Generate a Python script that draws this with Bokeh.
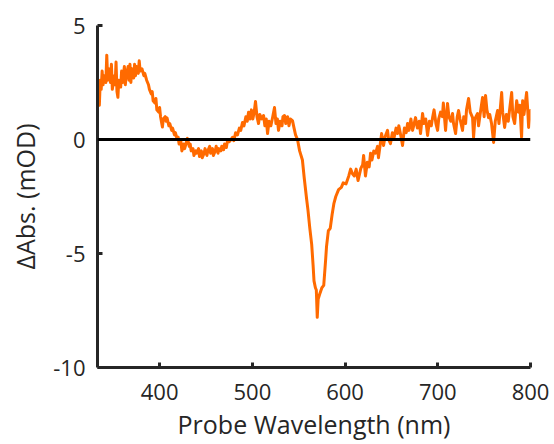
from bokeh.plotting import figure
from bokeh.models import Range1d, FixedTicker, Span
from bokeh.embed import file_html
from bokeh.resources import INLINE

# ---- data ----
wavelength = [
    333, 334, 335, 336, 337, 338, 339, 340, 342, 343, 344, 345, 347, 348, 349, 351, 352, 353, 354, 355,
    356, 358, 359, 360, 362, 363, 364, 366, 367, 368, 369, 370, 372, 373, 374, 375, 377, 378, 379, 381,
    383, 384, 386, 388, 389, 391, 392, 393, 395, 396, 397, 399, 400, 401, 403, 404, 406, 407, 408, 410,
    411, 413, 414, 416, 417, 419, 420, 421, 423, 424, 426, 427, 429, 430, 432, 433, 434, 436, 437, 439,
    440, 442, 443, 445, 446, 448, 449, 451, 452, 454, 455, 457, 458, 460, 461, 463, 464, 466, 467, 469,
    470, 472, 473,
    475, 477, 478.6, 480, 482, 484, 486, 487.5, 489.4, 491, 493, 494.5, 495.9, 497.5, 499, 500.5, 502,
    503.4, 505, 506.7, 508, 510, 512.1, 513.5, 515, 516.4, 518, 520, 522, 523.9, 525.5, 527, 528.2, 530,
    532, 533, 534.7, 536, 538, 539.5, 541, 543.3, 545, 546.6, 548.7,
    551, 554, 556, 558.5, 560, 562, 564, 565.5, 566.5, 568, 569, 570, 571, 572.5, 575, 577, 579, 580,
    582, 584, 586, 588, 590, 593, 596, 598, 601, 604, 606, 608, 610, 612, 614, 617, 619,
    620, 622, 624, 626, 627.5, 629, 631, 633, 635, 636, 638, 639.4, 641.5, 643, 645.8, 647, 649, 651,
    653, 655, 656.6, 658, 660, 662, 664, 666, 667.4, 669, 671, 672.8, 674, 676, 678, 680, 681.4, 683.6,
    685, 687, 689, 691, 693, 694.4, 696, 698, 699.8, 701, 703, 705, 706, 708.4, 710.5, 712, 714, 715.9,
    717, 719.2, 721, 722.4, 724, 726.7, 728, 730, 731, 733.2, 735, 737.5, 738.6, 740, 742.9, 744, 746,
    748.3, 750, 751.5, 753, 754.8, 756, 758, 760.2, 762, 764.5, 766, 768.9, 770, 772.1, 774, 776, 778,
    779.7, 781, 782.9, 785.1, 787, 788.5, 790.4, 791.5, 793, 795.8, 797, 798, 800,
]
delta_abs = [
    1.9, 1.7, 1.5, 2.6, 2.2, 3.0, 2.4, 2.8, 2.5, 3.7, 2.6, 3.1, 2.5, 3.3, 2.2, 2.8, 2.4, 3.4, 2.1, 1.85,
    2.6, 2.3, 3.0, 2.5, 3.2, 2.4, 2.8, 3.2, 2.6, 3.3, 2.5, 3.1, 2.7, 3.3, 2.8, 3.2, 2.9, 3.45, 3.0, 3.1,
    2.8, 2.9, 2.6, 2.4, 2.2, 2.0, 2.1, 1.7, 1.6, 1.8, 1.3, 1.2, 1.4, 1.0, 0.55, 0.9, 1.0, 0.8, 0.95, 0.6,
    0.7, 0.4, 0.5, 0.2, 0.3, 0.0, 0.1, -0.2, -0.1, -0.5, -0.2, -0.4, -0.1, 0.05, -0.3, -0.2, -0.5, -0.4, -0.7, -0.5,
    -0.6, -0.4, -0.75, -0.5, -0.8, -0.6, -0.4, -0.7, -0.5, -0.3, -0.6, -0.4, -0.7, -0.5, -0.3, -0.6, -0.4, -0.5, -0.3, -0.45,
    -0.2, -0.35, -0.1,
    -0.1, 0.0, 0.1, -0.05, 0.3, 0.2, 0.5, 0.4, 0.75, 0.6, 1.0, 0.8, 1.2, 0.9, 1.3, 0.9, 1.2,
    1.67, 1.0, 0.7, 1.1, 0.9, 1.05, 0.6, 0.9, 0.26, 0.8, 0.6, 1.0, 1.4, 0.7, 0.9, 0.4, 0.8,
    0.6, 1.0, 1.05, 0.7, 1.0, 0.6, 0.9, 0.83, 0.5, 0.2, 0.0,
    -0.5, -0.9, -1.7, -2.6, -3.1, -3.9, -4.6, -5.5, -6.2, -6.5, -6.6, -7.8, -7.0, -6.8, -6.5, -6.4, -5.3, -4.7,
    -4.0, -3.9, -3.3, -2.8, -2.5, -2.2, -2.1, -1.9, -1.95, -1.6, -1.3, -1.5, -1.6, -1.3, -1.8, -1.27, -1.1,
    -0.7, -1.6, -1.0, -1.2, -0.6, -0.9, -0.5, -0.6, -0.3, -0.8, -0.2, 0.26, -0.26, 0.1, 0.4, 0.0, -0.18, 0.3,
    0.1, 0.5, 0.26, 0.6, 0.2, -0.26, 0.5, 0.3, 0.7, 0.4, 0.9, 0.4, 0.6, 0.96, 0.5, 0.8, 0.26, 1.14,
    0.7, 0.9, 0.18, 0.8, 0.6, 0.96, 1.3, 0.7, 0.4, 0.9, 1.2, 1.0, 1.6, 0.4, 1.58, 1.0, 0.8, 1.14,
    0.7, 0.26, 1.0, 1.27, 0.9, 0.4, 1.0, 0.7, 1.3, 1.8, 1.2, 0.96, 0.09, 0.9, 1.14, 0.6, 1.2,
    1.84, 1.0, 1.93, 1.3, 0.96, 1.1, 0.7, -0.13, 0.8, 1.27, 0.7, 2.06, 1.2, 0.53, 1.1, 0.8, 1.5,
    2.06, 1.0, 0.7, 1.7, 1.2, 1.5, 0.09, 1.7, 1.1, 2.06, 1.3, 0.53, 1.27,
]

x_ticks = [400, 500, 600, 700, 800]
y_ticks = [-10, -5, 0, 5]
y_tick_labels = ["-10", "-5", "0", "5"]
x_label = "Probe Wavelength (nm)"
y_label = "\u0394Abs. (mOD)"

FONT = "Open Sans"
TXT = "#262626"

p = figure(width=554, height=444, output_backend="svg", toolbar_location=None,
           x_range=Range1d(333, 800), y_range=Range1d(-10, 5),
           min_border_left=97, min_border_right=24, min_border_top=25, min_border_bottom=77)
p.outline_line_color = None
p.xgrid.visible = False
p.ygrid.visible = False
p.background_fill_color = "white"
p.border_fill_color = "white"

p.line(wavelength, delta_abs, line_color="#ff6a00", line_width=3, line_join="round", line_cap="round")

p.add_layout(Span(location=0, dimension="width", line_color="black", line_width=3))

for ax in (p.xaxis[0], p.yaxis[0]):
    ax.axis_line_width = 3
    ax.axis_line_color = TXT
    ax.major_tick_line_width = 3
    ax.major_tick_line_color = TXT
    ax.major_tick_in = 5
    ax.major_tick_out = 0
    ax.minor_tick_line_color = None
    ax.major_label_text_font = FONT
    ax.major_label_text_font_size = "22px"
    ax.major_label_text_color = TXT
    ax.axis_label_text_font = FONT
    ax.axis_label_text_font_size = "25px"
    ax.axis_label_text_font_style = "normal"
    ax.axis_label_text_color = TXT

p.xaxis[0].ticker = FixedTicker(ticks=x_ticks)
p.yaxis[0].ticker = FixedTicker(ticks=y_ticks)
p.yaxis[0].major_label_overrides = {t: s for t, s in zip(y_ticks, y_tick_labels)}
p.xaxis[0].axis_label = x_label
p.yaxis[0].axis_label = y_label
p.xaxis[0].major_label_standoff = 16
p.yaxis[0].major_label_standoff = 12
p.xaxis[0].axis_label_standoff = 4
p.yaxis[0].axis_label_standoff = 8

open("out.html", "w").write(file_html(p, INLINE))
